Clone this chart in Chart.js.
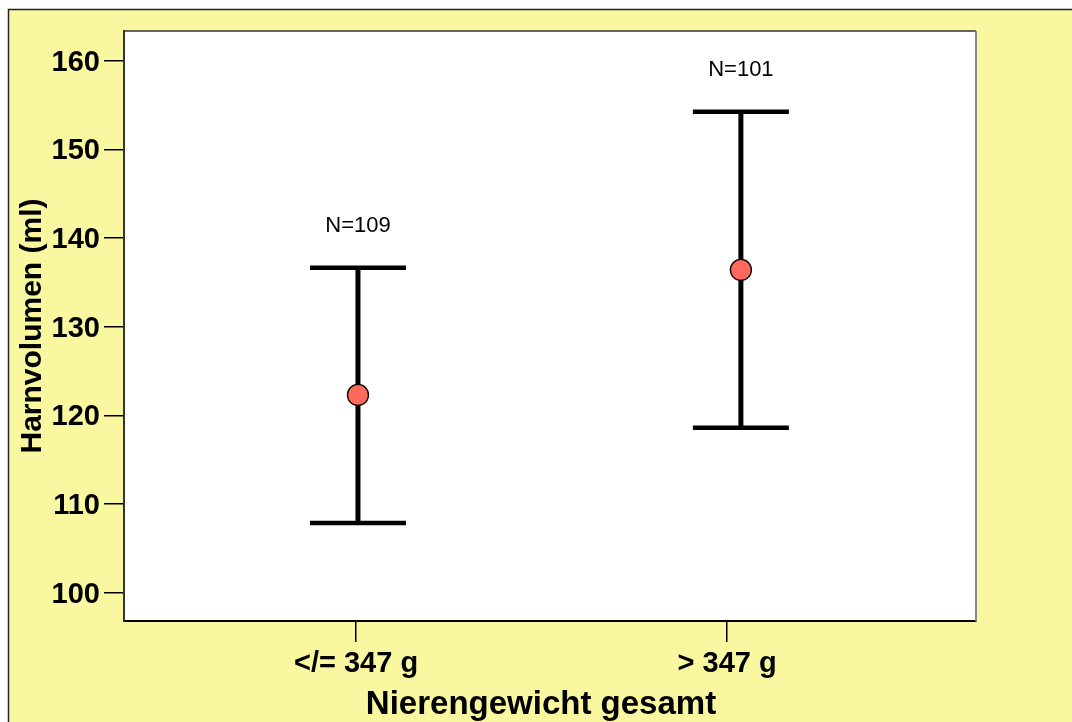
<!DOCTYPE html>
<html>
<head>
<meta charset="utf-8">
<script src="https://cdn.jsdelivr.net/npm/chart.js@4"></script>
<style>
  body { margin: 0; background: #fff; }
  #wrap { width: 1072px; height: 722px; }
</style>
</head>
<body>
<div id="wrap"><canvas id="errChart"></canvas></div>
<script>
// =============================
// DATA
// =============================
const groupNames = ["</= 347 g", "> 347 g"];
const groupPos = [0, 1];
const tickPos = [-0.005, 0.964];   // SPSS puts the category ticks a bit off the bars
const means = [122.3, 136.4];
const upper = [136.65, 154.25];
const lower = [107.85, 118.6];
const nLabels = ["N=109", "N=101"];
const yTickValues = [100, 110, 120, 130, 140, 150, 160];
const xTitle = "Nierengewicht gesamt";

const FONT = "'Liberation Sans', Arial, sans-serif";
const YELLOW = "#f9f7a0";

// =============================
// PLUGINS
// =============================
const frame = {
  id: "frame",
  beforeDraw(chart) {
    let ctx = chart.ctx;
    ctx.save();
    ctx.fillStyle = "#ffffff";
    ctx.fillRect(0, 0, chart.width, chart.height);
    ctx.fillStyle = YELLOW;
    ctx.fillRect(8, 9, chart.width, chart.height);
    ctx.strokeStyle = "#222";
    ctx.lineWidth = 1.5;
    ctx.beginPath();
    ctx.moveTo(8.5, chart.height);
    ctx.lineTo(8.5, 9.5);
    ctx.lineTo(chart.width, 9.5);
    ctx.stroke();
    // plot background
    let a = chart.chartArea;
    ctx.fillStyle = "#ffffff";
    ctx.fillRect(a.left, a.top, a.right - a.left, a.bottom - a.top);
    ctx.restore();
  },
  afterDraw(chart) {
    let ctx = chart.ctx;
    let a = chart.chartArea;
    ctx.save();
    ctx.strokeStyle = "#333";
    ctx.lineWidth = 1.5;
    ctx.beginPath();
    ctx.moveTo(a.left, a.top);
    ctx.lineTo(a.right, a.top);
    ctx.stroke();
    ctx.strokeStyle = "#888";
    ctx.lineWidth = 2;
    ctx.beginPath();
    ctx.moveTo(a.right, a.top);
    ctx.lineTo(a.right, a.bottom);
    ctx.stroke();

    // x axis title (sits a little left of the plot centre in the original)
    ctx.fillStyle = "#000";
    ctx.font = "bold 33px " + FONT;
    ctx.textAlign = "center";
    ctx.textBaseline = "middle";
    ctx.fillText(xTitle, (a.left + a.right) / 2 - 9, 705);
    ctx.restore();
  }
};

const errorBars = {
  id: "errorBars",
  beforeDatasetsDraw(chart) {
    let ctx = chart.ctx;
    let xs = chart.scales.x;
    let ys = chart.scales.y;
    ctx.save();
    ctx.strokeStyle = "#000";
    ctx.lineCap = "butt";
    groupPos.forEach(function (g, i) {
      let x = xs.getPixelForValue(g);
      let yHi = ys.getPixelForValue(upper[i]);
      let yLo = ys.getPixelForValue(lower[i]);
      ctx.lineWidth = 5;
      ctx.beginPath();
      ctx.moveTo(x, yHi);
      ctx.lineTo(x, yLo);
      ctx.stroke();
      ctx.lineWidth = 4.5;
      ctx.beginPath();
      ctx.moveTo(x - 48, yHi);
      ctx.lineTo(x + 48, yHi);
      ctx.moveTo(x - 48, yLo);
      ctx.lineTo(x + 48, yLo);
      ctx.stroke();

      // N= label above the upper cap
      ctx.fillStyle = "#000";
      ctx.font = "22px " + FONT;
      ctx.textAlign = "center";
      ctx.textBaseline = "middle";
      ctx.fillText(nLabels[i], x, yHi - 41.5);
    });
    ctx.restore();
  }
};

// =============================
// CHART
// =============================
let ctx = document.getElementById("errChart");

new Chart(ctx, {
  type: "scatter",
  data: {
    datasets: [{
      data: groupPos.map((g, i) => ({ x: g, y: means[i] })),
      pointRadius: 10.5,
      pointHoverRadius: 10.5,
      pointBackgroundColor: "#ff6a5c",
      pointBorderColor: "#000",
      pointBorderWidth: 1.3
    }]
  },
  options: {
    responsive: true,
    maintainAspectRatio: false,
    animation: false,
    layout: { padding: { left: 0, top: 31, right: 96, bottom: 0 } },
    plugins: {
      legend: { display: false },
      tooltip: { enabled: false }
    },
    scales: {
      x: {
        type: "linear",
        min: -0.611,
        max: 1.614,
        afterFit: function (s) { s.height = 101; },
        afterBuildTicks: function (s) {
          s.ticks = tickPos.map(v => ({ value: v }));
        },
        ticks: {
          color: "#000",
          padding: 5,
          maxRotation: 0,
          autoSkip: false,
          font: { family: FONT, size: 29, weight: "bold" },
          callback: function (v, i) { return groupNames[i]; }
        },
        grid: {
          drawOnChartArea: false,
          drawTicks: true,
          tickLength: 21,
          color: "#000",
          lineWidth: 1.5
        },
        border: { display: true, color: "#000", width: 2 },
        title: { display: false }
      },
      y: {
        min: 96.8,
        max: 163.35,
        afterFit: function (s) { s.width = 124; },
        afterBuildTicks: function (s) {
          s.ticks = yTickValues.map(v => ({ value: v }));
        },
        ticks: {
          color: "#000",
          padding: 4,
          labelOffset: 2,
          font: { family: FONT, size: 29, weight: "bold" }
        },
        grid: {
          drawOnChartArea: false,
          drawTicks: true,
          tickLength: 20,
          color: "#000",
          lineWidth: 1.5
        },
        border: { display: true, color: "#333", width: 2 },
        title: {
          display: true,
          text: "Harnvolumen (ml)",
          color: "#000",
          font: { family: FONT, size: 30, weight: "bold", lineHeight: 1 },
          padding: { top: 18, bottom: 0 }
        }
      }
    }
  },
  plugins: [frame, errorBars]
});
</script>
</body>
</html>
